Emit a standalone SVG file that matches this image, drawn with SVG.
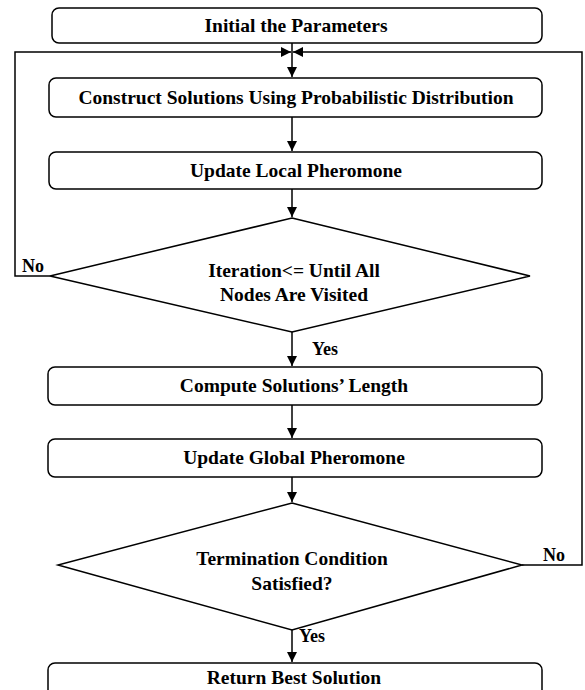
<svg xmlns="http://www.w3.org/2000/svg" width="585" height="690" viewBox="0 0 585 690">
<defs>
<marker id="ah" viewBox="0 0 10 10" refX="10" refY="5" markerWidth="10" markerHeight="10" markerUnits="userSpaceOnUse" orient="auto">
<path d="M0,0 L10,5 L0,10 Z" fill="#000"/>
</marker>
<style>
.box{fill:#fff;stroke:#000;stroke-width:1.5}
.t{font-family:"Liberation Serif","Times New Roman",serif;font-weight:bold;font-size:19.5px;fill:#000;text-anchor:middle}
.l{font-family:"Liberation Serif","Times New Roman",serif;font-weight:bold;font-size:18px;fill:#000}
.c{fill:none;stroke:#000;stroke-width:1.5}
</style>
</defs>
<rect width="585" height="690" fill="#fff"/>
<g id="connectors">
<path class="c" d="M292,43 V77" marker-end="url(#ah)"/>
<path class="c" d="M50,276 H15 V52 H291" marker-end="url(#ah)"/>
<path class="c" d="M522,565 H582 V52 H293" marker-end="url(#ah)"/>
<path class="c" d="M292,117 V151" marker-end="url(#ah)"/>
<path class="c" d="M292,189 V217" marker-end="url(#ah)"/>
<path class="c" d="M292,332 V366" marker-end="url(#ah)"/>
<path class="c" d="M292,405 V438" marker-end="url(#ah)"/>
<path class="c" d="M292,477 V502" marker-end="url(#ah)"/>
<path class="c" d="M292,630 V662" marker-end="url(#ah)"/>
<text class="l" x="22" y="272">No</text>
<text class="l" x="543" y="561">No</text>
<text class="l" x="312" y="355">Yes</text>
<text class="l" x="299" y="642">Yes</text>
</g>
<g id="n1"><rect class="box" x="52" y="8" width="490" height="35" rx="7"/><text class="t" x="296" y="32">Initial the Parameters</text></g>
<g id="n2"><rect class="box" x="49" y="78" width="493" height="39" rx="7"/><text class="t" x="296" y="104">Construct Solutions Using Probabilistic Distribution</text></g>
<g id="n3"><rect class="box" x="49" y="152" width="493" height="37" rx="7"/><text class="t" x="296" y="177">Update Local Pheromone</text></g>
<g id="n4"><polygon class="box" points="292,218 530,276 292,332 50,276"/><text class="t" x="294" y="277">Iteration&lt;= Until All</text><text class="t" x="294" y="301">Nodes Are Visited</text></g>
<g id="n5"><rect class="box" x="48" y="367" width="494" height="38" rx="7"/><text class="t" x="294" y="392">Compute Solutions’ Length</text></g>
<g id="n6"><rect class="box" x="48" y="439" width="494" height="38" rx="7"/><text class="t" x="294" y="464">Update Global Pheromone</text></g>
<g id="n7"><polygon class="box" points="292,503 522,565 292,630 58,565"/><text class="t" x="292" y="565">Termination Condition</text><text class="t" x="292" y="590">Satisfied?</text></g>
<g id="n8"><rect class="box" x="48" y="663" width="494" height="36" rx="7"/><text class="t" x="294" y="684">Return Best Solution</text></g>
</svg>
